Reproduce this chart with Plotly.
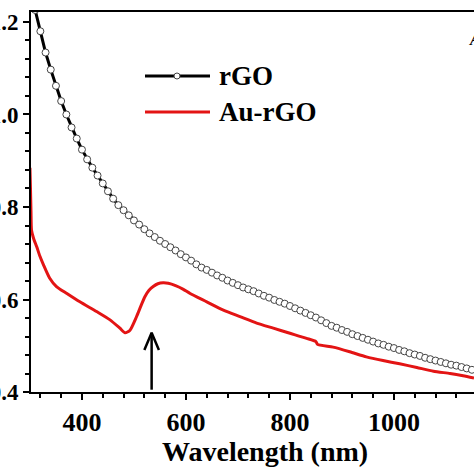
import plotly.graph_objects as go

# ---- data ----
rgo_wavelength = [310, 320, 330, 340, 350, 360, 370, 380, 390, 400, 410, 420, 430, 440, 450,
                  460, 470, 480, 490, 500, 510, 520, 530, 540, 550, 560, 570, 580, 590, 600,
                  610, 620, 630, 640, 650, 660, 670, 680, 690, 700, 710, 720, 730, 740, 750,
                  760, 770, 780, 790, 800, 810, 820, 830, 840, 850, 860, 870, 880, 890, 900,
                  910, 920, 930, 940, 950, 960, 970, 980, 990, 1000, 1010, 1020, 1030, 1040,
                  1050, 1060, 1070, 1080, 1090, 1100, 1110, 1120, 1130, 1140, 1150]
rgo_abs = [1.226, 1.180, 1.134, 1.097, 1.062, 1.029, 1.000, 0.972, 0.948, 0.924, 0.903, 0.885,
           0.868, 0.851, 0.834, 0.818, 0.804, 0.793, 0.782, 0.771, 0.762, 0.752, 0.743, 0.735,
           0.727, 0.720, 0.713, 0.706, 0.698, 0.691, 0.684, 0.676, 0.669, 0.664, 0.658, 0.652,
           0.647, 0.641, 0.636, 0.631, 0.626, 0.622, 0.618, 0.613, 0.608, 0.604, 0.599, 0.595,
           0.591, 0.586, 0.581, 0.576, 0.571, 0.566, 0.561, 0.555, 0.549, 0.543, 0.539, 0.534,
           0.530, 0.525, 0.521, 0.517, 0.513, 0.509, 0.505, 0.502, 0.498, 0.495, 0.491, 0.488,
           0.484, 0.481, 0.478, 0.474, 0.471, 0.468, 0.465, 0.462, 0.459, 0.457, 0.454, 0.451,
           0.448]

aurgo_wavelength = [300, 301, 302, 303, 307, 313, 319, 326, 338, 351, 371, 396, 428, 454, 473,
                    483, 492, 505, 513, 521, 529, 537, 546, 556, 566, 580, 595, 608,
                    640, 672, 704, 736, 768, 800, 832, 850, 853, 883, 915, 947, 979, 1011, 1044,
                    1076, 1108, 1133, 1154]
aurgo_abs = [0.885, 0.840, 0.790, 0.750, 0.732, 0.714, 0.694, 0.675, 0.646, 0.628, 0.613, 0.595,
             0.574, 0.556, 0.538, 0.528, 0.533, 0.563, 0.585, 0.606, 0.620, 0.628, 0.634, 0.636,
             0.635, 0.630, 0.622, 0.613, 0.595, 0.577, 0.563, 0.549, 0.538, 0.527,
             0.516, 0.509, 0.503, 0.497, 0.487, 0.476, 0.468, 0.461, 0.453, 0.445, 0.440, 0.435,
             0.430]

series_names = ["rGO", "Au-rGO"]
x_title = "Wavelength (nm)"
x_tickvals = [400, 600, 800, 1000]
y_tickvals = [0.4, 0.6, 0.8, 1.0, 1.2]
arrow_x = 534
arrow_y = [0.405, 0.528]

# ---- styling ----
FONT = "Liberation Serif, Times New Roman, serif"
RED = "#e31414"
W, H = 474, 474
ML, MT, MR, MB = 31, 12, 0, 82
PW, PH = W - ML - MR, H - MT - MB


def px2paper(px, py):
    return (px - ML) / PW, (H - MB - py) / PH


fig = go.Figure()
fig.add_trace(go.Scatter(
    x=rgo_wavelength, y=rgo_abs, mode="lines+markers", name=series_names[0],
    line=dict(color="black", width=3),
    marker=dict(symbol="circle", size=7, color="white", line=dict(color="#444444", width=1)),
    showlegend=False))
fig.add_trace(go.Scatter(
    x=aurgo_wavelength, y=aurgo_abs, mode="lines", name=series_names[1],
    line=dict(color=RED, width=3, shape="spline", smoothing=0.6),
    showlegend=False))

# arrow (vertical line with open V head)
fig.add_trace(go.Scatter(x=[arrow_x, arrow_x], y=arrow_y, mode="lines",
                         line=dict(color="black", width=2.5), showlegend=False, hoverinfo="skip"))
head_dx = 14  # nm
head_dy = 0.037
fig.add_trace(go.Scatter(x=[arrow_x - head_dx, arrow_x, arrow_x + head_dx],
                         y=[arrow_y[1] - head_dy, arrow_y[1], arrow_y[1] - head_dy],
                         mode="lines", line=dict(color="black", width=2.5),
                         showlegend=False, hoverinfo="skip"))

# custom legend
shapes = []
annotations = []
for i, (name, py) in enumerate(zip(series_names, [76, 112])):
    x0, y0 = px2paper(145, py)
    x1, _ = px2paper(210, py)
    col = "black" if i == 0 else RED
    shapes.append(dict(type="line", xref="paper", yref="paper", x0=x0, x1=x1, y0=y0, y1=y0,
                       line=dict(color=col, width=3)))
    if i == 0:
        cx, _ = px2paper(177, py)
        shapes.append(dict(type="circle", xref="paper", yref="paper", xsizemode="pixel",
                           ysizemode="pixel", xanchor=cx, yanchor=y0, x0=-3, x1=3, y0=-3, y1=3,
                           fillcolor="white", line=dict(color="#444444", width=1)))
    tx, _ = px2paper(217, py)
    annotations.append(dict(text=name, xref="paper", yref="paper", x=tx, y=y0, xanchor="left",
                            yanchor="middle", showarrow=False,
                            font=dict(family=FONT, size=27, color="black", weight="bold")))

# x title (centred as in reference)
tx, ty = px2paper(265, 451)
annotations.append(dict(text=x_title, xref="paper", yref="paper", x=tx, y=ty, xanchor="center",
                        yanchor="middle", showarrow=False,
                        font=dict(family=FONT, size=28, color="black", weight="bold")))
# cut-off panel letter at top right
ax_, ay_ = px2paper(467, 39)
annotations.append(dict(text="<i>A</i>", xref="paper", yref="paper", x=ax_, y=ay_,
                        xanchor="left", yanchor="middle", showarrow=False,
                        font=dict(family=FONT, size=18, color="black")))

fig.update_layout(
    width=W, height=H, margin=dict(l=ML, r=MR, t=MT, b=MB, autoexpand=False),
    paper_bgcolor="white", plot_bgcolor="white", showlegend=False,
    shapes=shapes, annotations=annotations,
    xaxis=dict(range=[302, 1154], tickvals=x_tickvals, ticks="outside", ticklen=6, tickwidth=1.5,
               tickcolor="black", showline=True, linecolor="black", linewidth=2, mirror=True,
               showgrid=False, zeroline=False, automargin=False,
               minor=dict(dtick=40, tick0=0, ticks="outside", ticklen=4, tickwidth=1.5,
                          tickcolor="black", showgrid=False),
               tickfont=dict(family=FONT, size=26, color="black", weight="bold"),
               ticklabelstandoff=0),
    yaxis=dict(range=[0.4, 1.2216], tickvals=y_tickvals, tickformat=".1f", ticks="outside",
               ticklen=6, tickwidth=1.5, tickcolor="black", showline=True, linecolor="black",
               linewidth=2, mirror=False, showgrid=False, zeroline=False, automargin=False,
               minor=dict(dtick=0.04, tick0=0.4, ticks="outside", ticklen=4, tickwidth=1.5,
                          tickcolor="black", showgrid=False),
               tickfont=dict(family=FONT, size=23, color="black", weight="bold"),
               ticklabelstandoff=0),
)
fig.write_html("out.html", config={"displayModeBar": False},
               post_script="document.body.style.margin='0';document.body.style.overflow='hidden';")
